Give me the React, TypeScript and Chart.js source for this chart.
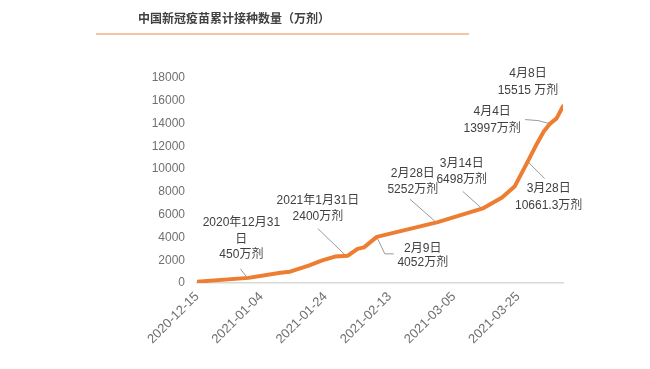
import React, { useEffect, useRef } from "react";
import { Chart, registerables } from "chart.js";

Chart.register(...registerables);

const FONT = "'Liberation Sans', Arial, 'Noto Sans CJK SC', sans-serif";

const START_DATE = "2020-12-15";
const END_DATE = "2021-04-08";

// cumulative doses (万剂)
const dates = [
  "2020-12-15", "2020-12-31", "2021-01-10", "2021-01-13", "2021-01-19",
  "2021-01-23", "2021-01-27", "2021-01-31", "2021-02-03", "2021-02-05",
  "2021-02-09", "2021-02-28", "2021-03-14", "2021-03-20", "2021-03-24",
  "2021-03-28", "2021-03-31", "2021-04-02", "2021-04-04", "2021-04-06",
  "2021-04-08",
];
const doses = [
  120, 450, 900, 990, 1550,
  1980, 2320, 2400, 3000, 3130,
  4052, 5350, 6550, 7500, 8500,
  10661.3, 12300, 13300, 13997, 14450,
  15515,
];

const yMax = 18000;
const yStep = 2000;
const xTickStepDays = 20;

const titleText = "中国新冠疫苗累计接种数量（万剂）";

const annotationDates = ["2020-12-31", "2021-01-31", "2021-02-09", "2021-02-28", "2021-03-14", "2021-03-28", "2021-04-04", "2021-04-08"];
const annotationTexts = [
  ["2020年12月31", "日", "450万剂"],
  ["2021年1月31日", "2400万剂"],
  ["2月9日", "4052万剂"],
  ["2月28日", "5252万剂"],
  ["3月14日", "6498万剂"],
  ["3月28日", "10661.3万剂"],
  ["4月4日", "13997万剂"],
  ["4月8日", "15515 万剂"],
];
// text offsets (px) relative to the anchored data point
const annotationTextDx = [-7, -30, 46, -25, -21, 21, -58, -35];
const annotationTextDy = [
  [-55, -38, -23],
  [-55, -39],
  [12, 26],
  [-48, -32],
  [-45, -29],
  [27, 44],
  [-12, 5],
  [-33, -16],
];
const annotationLeaders: number[][][] = [
  [[-8, -9], [-1, 0]],
  [[-30, -27], [-2, 0]],
  [[0, 0], [8, 17], [17, 17]],
  [[-28, -23], [-3, -1]],
  [[-20, -17], [-1, 0]],
  [[0, 0], [17, 17]],
  [[-25, -4], [-12, -3], [-1, 0]],
  [],
];

const DAY = 86400000;
const dayOf = (d: string) => (Date.parse(d) - Date.parse(START_DATE)) / DAY;
const dateLabel = (v: number) => new Date(Date.parse(START_DATE) + v * DAY).toISOString().slice(0, 10);

const overlay = {
  id: "overlay",
  beforeDatasetsDraw(chart: any) {
    const { ctx, scales } = chart;
    const x = scales.x, y = scales.y;
    ctx.save();
    ctx.strokeStyle = "#9a9a9a";
    ctx.lineWidth = 1;
    annotationDates.forEach((d, k) => {
      const pts = annotationLeaders[k];
      if (!pts.length) return;
      const i = dates.indexOf(d);
      const px = x.getPixelForValue(dayOf(d));
      const py = y.getPixelForValue(doses[i]);
      ctx.beginPath();
      pts.forEach((p, j) => {
        if (j === 0) ctx.moveTo(px + p[0], py + p[1]);
        else ctx.lineTo(px + p[0], py + p[1]);
      });
      ctx.stroke();
    });
    ctx.restore();
  },
  afterDatasetsDraw(chart: any) {
    const { ctx, scales } = chart;
    const x = scales.x, y = scales.y;
    ctx.save();
    // title
    ctx.fillStyle = "#404040";
    ctx.font = `bold 12px ${FONT}`;
    ctx.textAlign = "left";
    ctx.textBaseline = "middle";
    ctx.fillText(titleText, 138, 20);
    ctx.strokeStyle = "#F4B183";
    ctx.lineWidth = 1.5;
    ctx.beginPath();
    ctx.moveTo(96, 34);
    ctx.lineTo(469, 34);
    ctx.stroke();
    // annotations
    ctx.font = `12px ${FONT}`;
    ctx.fillStyle = "#404040";
    ctx.textAlign = "center";
    annotationDates.forEach((d, k) => {
      const i = dates.indexOf(d);
      const px = x.getPixelForValue(dayOf(d));
      const py = y.getPixelForValue(doses[i]);
      annotationTexts[k].forEach((t, j) => {
        ctx.fillText(t, px + annotationTextDx[k], py + annotationTextDy[k][j]);
      });
    });
    ctx.restore();
  },
};

export default function App() {
  const ref = useRef<HTMLCanvasElement>(null);
  useEffect(() => {
    if (!ref.current) return;
    const chart = new Chart(ref.current, {
      type: "line",
      data: {
        datasets: [
          {
            label: "累计接种数量",
            data: dates.map((d, i) => ({ x: dayOf(d), y: doses[i] })),
            borderColor: "#ED7D31",
            borderWidth: 4,
            pointRadius: 0,
            tension: 0,
            borderCapStyle: "round",
            borderJoinStyle: "round",
            fill: false,
          },
        ],
      },
      options: {
        responsive: false,
        animation: false,
        layout: { padding: { left: 130, right: 87, top: 78, bottom: 0 } },
        plugins: { legend: { display: false }, tooltip: { enabled: false }, title: { display: false } },
        scales: {
          x: {
            type: "linear",
            min: 0,
            max: dayOf(END_DATE),
            grid: { display: false, drawTicks: false },
            border: { display: true, color: "#d9d9d9", width: 1.5 },
            afterFit: (s: any) => { s.height = 86; },
            ticks: {
              stepSize: xTickStepDays,
              includeBounds: false,
              autoSkip: false,
              maxRotation: 45,
              minRotation: 45,
              padding: 6,
              color: "#707070",
              font: { size: 13, family: FONT },
              callback: (v: any) => dateLabel(Number(v)),
            },
          },
          y: {
            min: 0,
            max: yMax,
            grid: { display: false, drawTicks: false },
            border: { display: false },
            afterFit: (s: any) => { s.width = 67; },
            ticks: {
              stepSize: yStep,
              padding: 12,
              color: "#707070",
              font: { size: 12, family: FONT },
              callback: (v: any) => String(v),
            },
          },
        },
      },
      plugins: [overlay],
    });
    return () => chart.destroy();
  }, []);
  return (
    <div style={{ position: "fixed", left: 0, top: 0, width: 650, height: 369, background: "#fff" }}>
      <canvas ref={ref} width={650} height={369} style={{ display: "block" }} />
    </div>
  );
}
